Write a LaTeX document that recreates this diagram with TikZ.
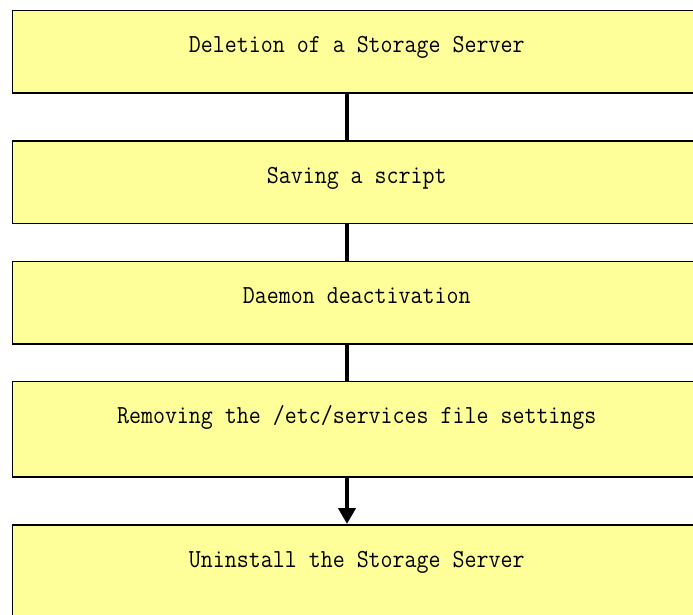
\documentclass[tikz,border=0pt]{standalone}
\usepackage{fontspec}
\usepackage{graphicx}
\usetikzlibrary{arrows.meta}
\definecolor{boxyellow}{RGB}{255,255,153}
\newcommand{\steptext}[1]{\scalebox{0.895}[1]{#1}}
\begin{document}
\begin{tikzpicture}[x=1pt,y=-1pt,
  stepbox/.style={draw=black, line width=1.5pt, fill=boxyellow, anchor=north west,
    minimum width=689pt, inner sep=0pt, text height=42.5pt,
    font=\ttfamily\fontsize{26}{26}\selectfont},
  link/.style={line width=4pt, draw=black},
  linkarrow/.style={link, -{Triangle[width=17pt,length=16pt]}}]
\useasboundingbox (0,0) rectangle (693,614);
\clip (0,0) rectangle (693,614);
\node[stepbox, text depth=40pt] (b1) at (11.5,9.5) {\steptext{Deletion of a Storage Server}};
\node[stepbox, text depth=40pt] (b2) at (11.5,140) {\steptext{Saving a script}};
\node[stepbox, text depth=40pt] (b3) at (11.5,260.5) {\steptext{Daemon deactivation}};
\node[stepbox, text depth=53pt] (b4) at (11.5,380.5) {\steptext{Removing the /etc/services file settings}};
\node[stepbox, text depth=60pt] (b5) at (11.5,524) {\steptext{Uninstall the Storage Server}};
\draw[link] (b1.south -| 347,0) -- (b2.north -| 347,0);
\draw[link] (b2.south -| 347,0) -- (b3.north -| 347,0);
\draw[link] (b3.south -| 347,0) -- (b4.north -| 347,0);
\draw[linkarrow] (b4.south -| 347,0) -- (b5.north -| 347,0);
\end{tikzpicture}
\end{document}
